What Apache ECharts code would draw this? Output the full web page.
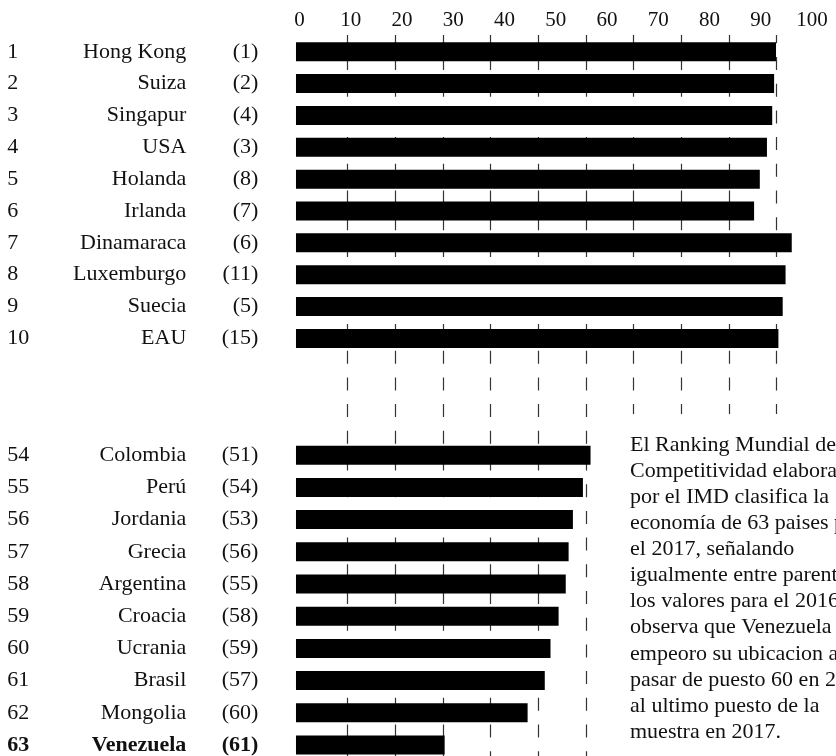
<!DOCTYPE html>
<html><head><meta charset="utf-8">
<script src="https://cdn.jsdelivr.net/npm/echarts@6/dist/echarts.min.js"></script>
<style>html,body{margin:0;padding:0;background:#fff}#c{width:836px;height:756px}</style>
</head><body><div id="c"></div>
<script>
// ---- data ----
const tickLabels = ['0','10','20','30','40','50','60','70','80','90','100'];

const topRanks  = [1, 2, 3, 4, 5, 6, 7, 8, 9, 10];
const topNames  = ['Hong Kong','Suiza','Singapur','USA','Holanda','Irlanda','Dinamaraca','Luxemburgo','Suecia','EAU'];
const topPrev   = [1, 2, 4, 3, 8, 7, 6, 11, 5, 15];
const topScores = [99.9, 99.5, 99.1, 98.0, 96.5, 95.3, 103.2, 101.9, 101.3, 100.4];

const botRanks  = [54, 55, 56, 57, 58, 59, 60, 61, 62, 63];
const botNames  = ['Colombia','Perú','Jordania','Grecia','Argentina','Croacia','Ucrania','Brasil','Mongolia','Venezuela'];
const botPrev   = [51, 54, 53, 56, 55, 58, 59, 57, 60, 61];
const botScores = [61.0, 59.4, 57.3, 56.4, 55.8, 54.3, 52.6, 51.4, 47.8, 30.4];
const boldName  = 'Venezuela';

const noteLines = [
  'El Ranking Mundial de',
  'Competitividad elaborado',
  'por el IMD clasifica la',
  'economía de 63 paises para',
  'el 2017, señalando',
  'igualmente entre parentesis',
  'los valores para el 2016. Se',
  'observa que Venezuela',
  'empeoro su ubicacion al',
  'pasar de puesto 60 en 2016',
  'al ultimo puesto de la',
  'muestra en 2017.'
];

// ---- styling / layout ----
const FONT = 'Liberation Serif';
const FS = 22;
const PLOT_LEFT = 299.7, PLOT_RIGHT = 836 - 776.5;

function rich(bold) {
  const w = bold ? 'bold' : 'normal';
  const base = {fontFamily: FONT, fontSize: FS, color: '#111', fontWeight: w};
  return {
    r: Object.assign({}, base, {width: 40, align: 'left'}),
    n: Object.assign({}, base, {width: 139, align: 'right'}),
    p: Object.assign({}, base, {width: 72, align: 'right'})
  };
}
function makeRich() {
  const a = rich(false), b = rich(true);
  return {r: a.r, n: a.n, p: a.p, rb: b.r, nb: b.n, pb: b.p};
}
function labelFmt(ranks, prev) {
  return function (value, idx) {
    const b = value === boldName ? 'b' : '';
    return '{r' + b + '|' + ranks[idx] + '}{n' + b + '|' + value + '}{p' + b + '|(' + prev[idx] + ')}';
  };
}

function barYAxis(gridIndex, names, ranks, prev) {
  return {
    type: 'category', gridIndex: gridIndex, data: names, inverse: true,
    axisLine: {show: false}, axisTick: {show: false}, splitLine: {show: false},
    axisLabel: {margin: 41.4, formatter: labelFmt(ranks, prev), rich: makeRich(), align: 'right',
                fontFamily: FONT, fontSize: FS, color: '#111'}
  };
}
function barXAxis(gridIndex) {
  return {
    type: 'value', gridIndex: gridIndex, min: 0, max: 100, interval: 10,
    startValue: -0.78,
    axisLine: {show: false}, axisTick: {show: false}, axisLabel: {show: false}, splitLine: {show: false}
  };
}

const chart = echarts.init(document.getElementById('c'), null, {renderer: 'canvas'});

const graphics = [{
  type: 'rect', z: 100, shape: {x: 605, y: 414, width: 231, height: 342}, style: {fill: '#fff'}
}];
noteLines.forEach(function (t, i) {
  graphics.push({
    type: 'text', z: 101, x: 630, y: 445 + i * 26.1,
    style: {text: t, fontFamily: FONT, fontSize: 22, fill: '#111', verticalAlign: 'middle', align: 'left'}
  });
});

chart.setOption({
  backgroundColor: '#fff',
  animation: false,
  textStyle: {fontFamily: FONT, color: '#111'},
  grid: [
    {left: 299.5, right: 24, top: 31, height: 1, containLabel: false, outerBoundsMode: 'none'},
    {left: 347.4, right: PLOT_RIGHT, top: 35, bottom: 0, containLabel: false, outerBoundsMode: 'none'},
    {left: PLOT_LEFT, right: PLOT_RIGHT, top: 35.8, height: 318.5, containLabel: false, outerBoundsMode: 'none'},
    {left: PLOT_LEFT, right: PLOT_RIGHT, top: 439.1, height: 322, containLabel: false, outerBoundsMode: 'none'}
  ],
  xAxis: [
    {type: 'value', gridIndex: 0, position: 'top', min: 0, max: 100, interval: 10,
     axisLine: {show: false}, axisTick: {show: false}, splitLine: {show: false},
     axisLabel: {margin: 0, fontFamily: FONT, fontSize: 21, color: '#111',
       formatter: function (v) { return tickLabels[Math.round(v / 10)]; }}},
    {type: 'value', gridIndex: 1, min: 10, max: 100, interval: 10,
     axisLine: {show: false}, axisTick: {show: false}, axisLabel: {show: false},
     splitLine: {show: true, lineStyle: {color: '#333', width: 1.2, type: [13, 13.7], dashOffset: 4.7}}},
    barXAxis(2),
    barXAxis(3)
  ],
  yAxis: [
    {type: 'value', gridIndex: 0, show: false},
    {type: 'value', gridIndex: 1, show: false},
    barYAxis(2, topNames, topRanks, topPrev),
    barYAxis(3, botNames, botRanks, botPrev)
  ],
  series: [
    {type: 'bar', xAxisIndex: 2, yAxisIndex: 2, data: topScores, barWidth: 19, clip: false,
     startValue: -0.78, itemStyle: {color: '#000'}, z: 5},
    {type: 'bar', xAxisIndex: 3, yAxisIndex: 3, data: botScores, barWidth: 19, clip: false,
     startValue: -0.78, itemStyle: {color: '#000'}, z: 5}
  ],
  graphic: graphics
});
</script>
</body></html>
